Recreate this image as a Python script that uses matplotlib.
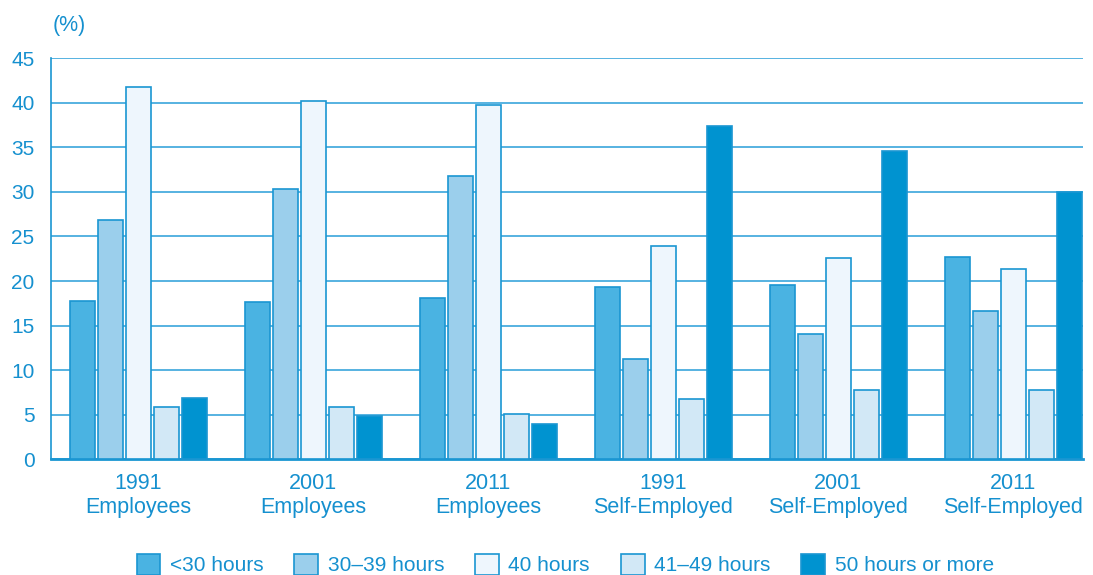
import matplotlib as mpl
mpl.use('Agg')
import matplotlib.pyplot as plt
import numpy as np

plt.rcParams['font.family'] = ['Liberation Sans', 'DejaVu Sans']

groups = ["1991\nEmployees", "2001\nEmployees", "2011\nEmployees",
          "1991\nSelf-Employed", "2001\nSelf-Employed", "2011\nSelf-Employed"]
series = ["<30 hours", "30–39 hours", "40 hours", "41–49 hours", "50 hours or more"]
under30 = [17.7, 17.6, 18.1, 19.3, 19.6, 22.7]
h30_39 = [26.8, 30.3, 31.8, 11.2, 14.0, 16.6]
h40 = [41.8, 40.2, 39.8, 23.9, 22.6, 21.4]
h41_49 = [5.9, 5.9, 5.1, 6.7, 7.8, 7.8]
h50plus = [6.8, 4.8, 3.9, 37.4, 34.6, 30.0]
yticks = [0, 5, 10, 15, 20, 25, 30, 35, 40, 45]

colors = ["#4ab3e2", "#9bcfec", "#eef6fd", "#d2e8f6", "#0093d0"]
edge = "#1a96d2"
txt = "#1590cf"

fig = plt.figure(figsize=(10.93, 5.75), dpi=100)
ax = fig.add_axes([0.0467, 0.2017, 0.9442, 0.6966])

x = np.arange(len(groups))
step = 0.16
width = 0.143
for i, vals in enumerate([under30, h30_39, h40, h41_49, h50plus]):
    ax.bar(x + (i - 2) * step, vals, width, color=colors[i], edgecolor=edge,
           linewidth=1.2, label=series[i], zorder=3)

ax.set_ylim(0, 45)
ax.set_xlim(-0.497, 5.4)
ax.set_yticks(yticks)
ax.yaxis.grid(True, color="#3aa6dc", linewidth=1.2, zorder=0)
for s in ["top", "right"]:
    ax.spines[s].set_visible(False)
ax.spines["left"].set_color(edge)
ax.spines["left"].set_linewidth(1.2)
ax.spines["bottom"].set_color(edge)
ax.spines["bottom"].set_linewidth(2)
ax.tick_params(axis="both", length=0, colors=txt, labelsize=15)
ax.tick_params(axis="y", pad=12)
ax.tick_params(axis="x", pad=10, labelsize=15.5)
ax.set_xticks(x)
ax.set_xticklabels(groups, linespacing=1.22)

fig.text(0.048, 0.955, "(%)", color=txt, fontsize=15.5, ha="left", va="center")

leg = fig.legend(loc="lower center", ncol=5, bbox_to_anchor=(0.517, -0.033),
                 frameon=False, fontsize=15, handlelength=1.15, handleheight=1.2,
                 columnspacing=1.48, handletextpad=0.45)
for t in leg.get_texts():
    t.set_color(txt)

fig.savefig("out.png", dpi=100)
